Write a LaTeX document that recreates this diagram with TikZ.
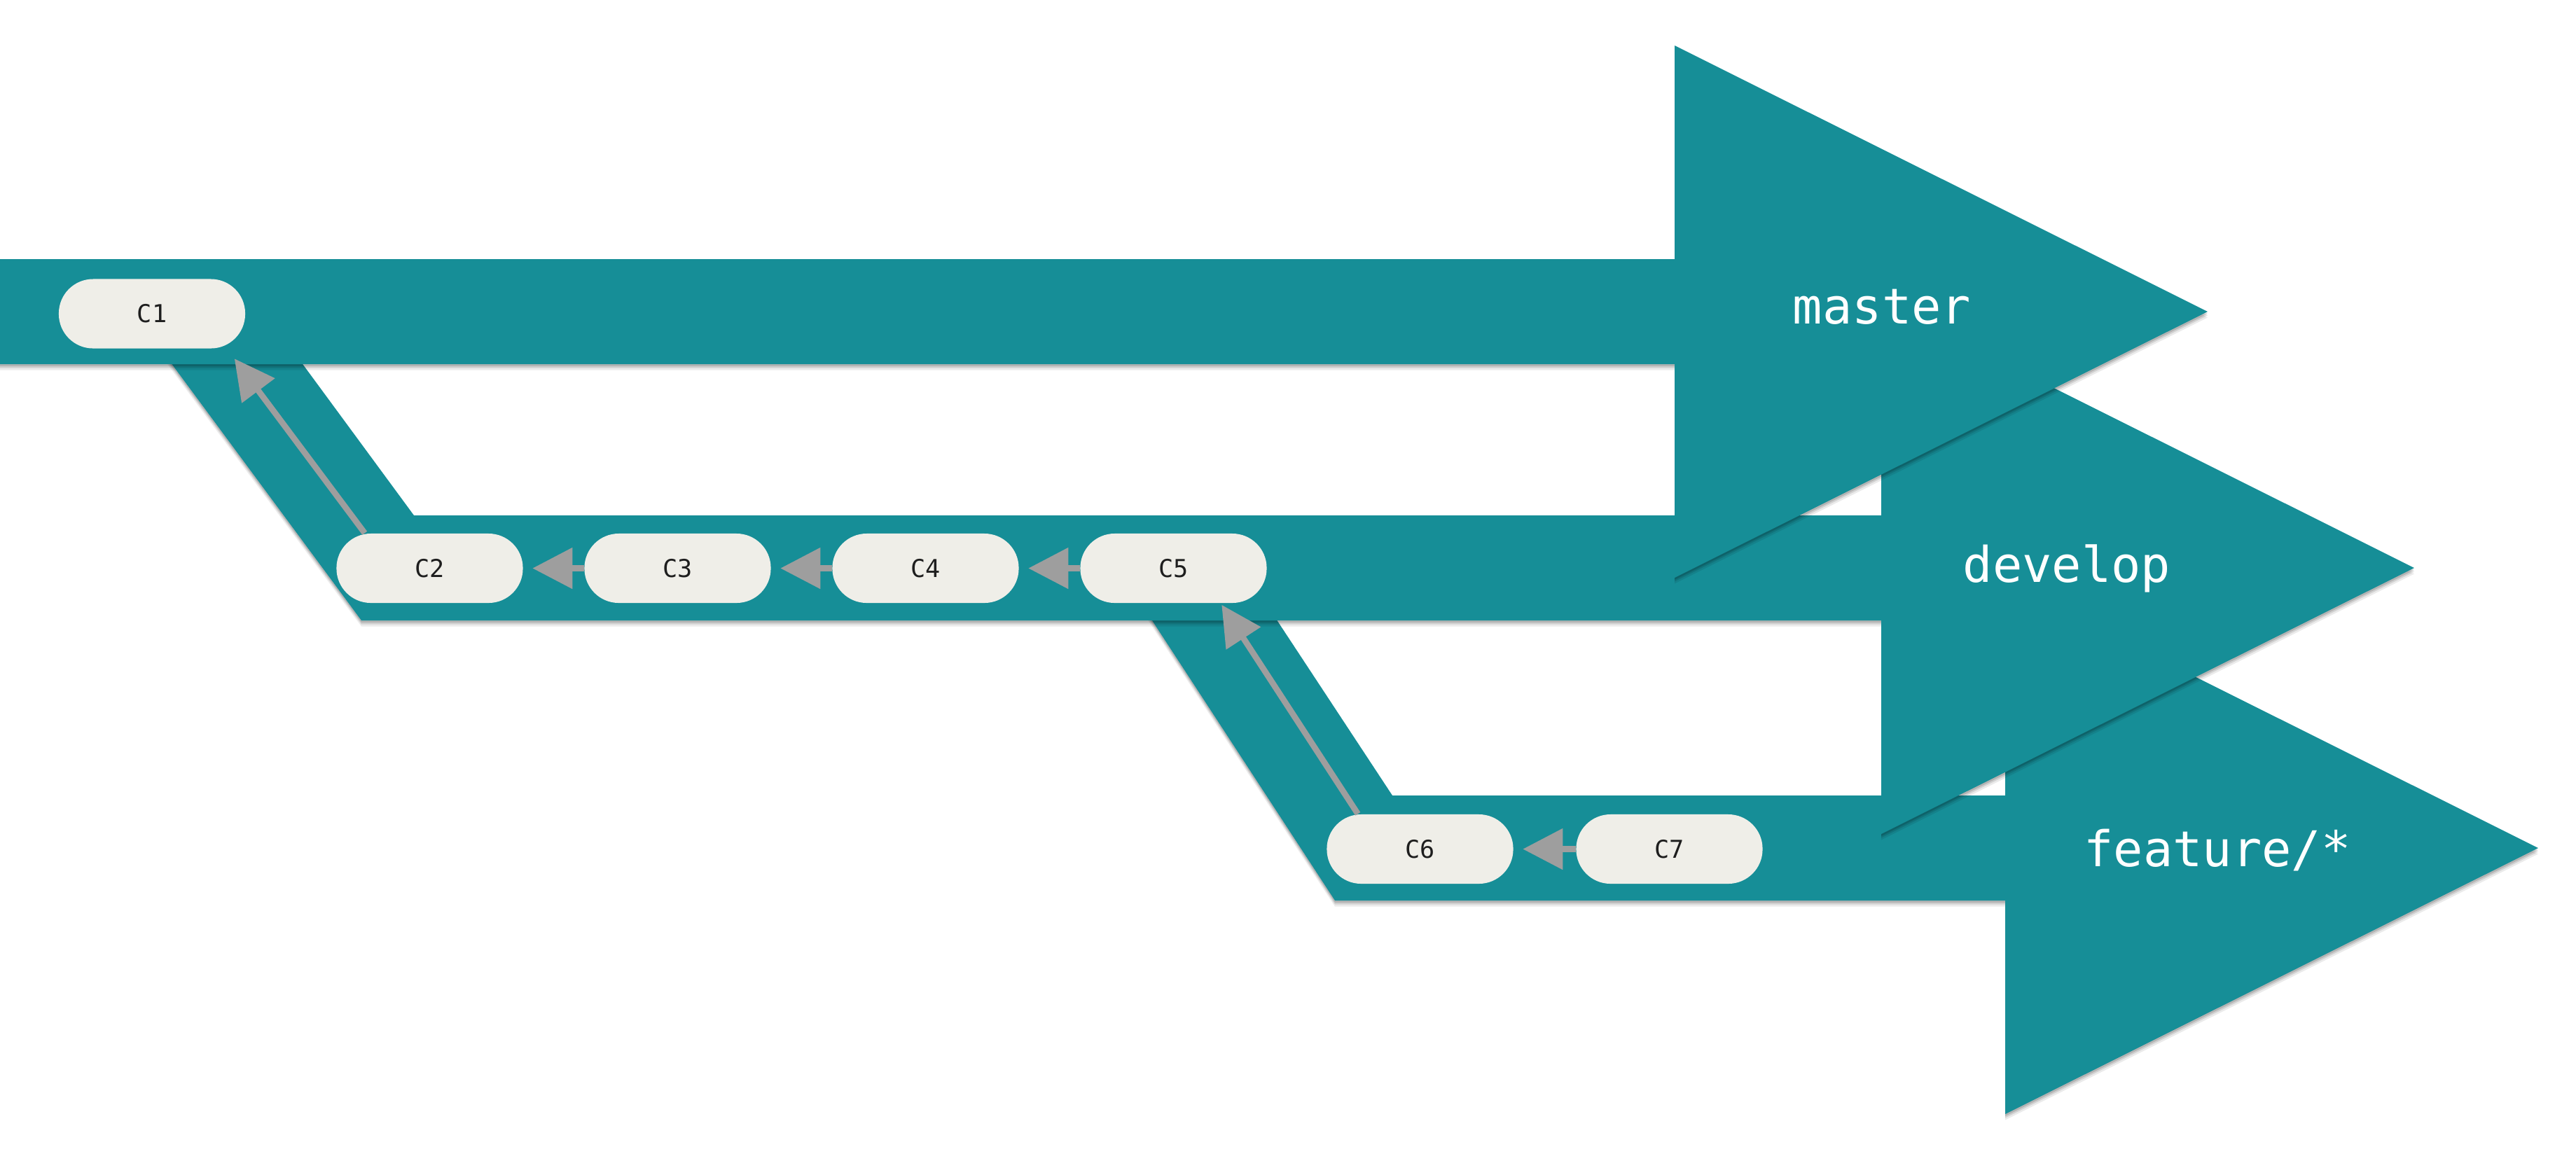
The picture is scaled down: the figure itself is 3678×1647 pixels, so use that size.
\documentclass[tikz,border=0pt]{standalone}
\usepackage{fontspec}
\setmonofont{DejaVu Sans Mono}
\usetikzlibrary{arrows.meta,calc,shadows}
\definecolor{teal0}{RGB}{22,142,151}
\definecolor{pillc}{RGB}{239,238,232}
\definecolor{arrowgray}{RGB}{158,158,158}
\definecolor{inkc}{RGB}{30,30,30}
\begin{document}
\begin{tikzpicture}[x=0.01cm,y=-0.01cm,
  branch/.style={fill=teal0, draw=none,
     drop shadow={shadow xshift=0cm,shadow yshift=-0.085cm,opacity=0.08,fill=black},
     drop shadow={shadow xshift=0cm,shadow yshift=-0.055cm,opacity=0.11,fill=black},
     drop shadow={shadow xshift=0cm,shadow yshift=-0.03cm,opacity=0.14,fill=black}},
  commit/.style={rectangle, rounded corners=0.49cm, fill=pillc, draw=none,
     minimum width=2.66cm, minimum height=0.99cm, inner sep=0pt,
     font=\ttfamily\fontsize{10}{12}\selectfont, text=inkc},
  brlabel/.style={text=white, inner sep=0pt, font=\ttfamily\fontsize{20}{24}\selectfont},
  parent/.style={draw=arrowgray, line width=0.085cm,
     -{Triangle[length=0.57cm,width=0.57cm]}, shorten >=0.13cm},
  diagparent/.style={parent, shorten >=0cm}
]
\useasboundingbox (0,0) rectangle (3678,1647);
\fill[white] (0,0) rectangle (3678,1647);

% feature/* branch
\path[branch] (1596,811) -- (1774,811) -- (1988,1136) -- (2863,1136) -- (2863,831)
  -- (3624,1211) -- (2863,1591) -- (2863,1286) -- (1906,1286) -- cycle;
% develop branch
\path[branch] (190,445) -- (377,445) -- (591,736) -- (2686,736) -- (2686,431)
  -- (3447,811) -- (2686,1191) -- (2686,886) -- (516,886) -- cycle;
% master branch
\path[branch] (0,370) -- (2391,370) -- (2391,65) -- (3152,445) -- (2391,825)
  -- (2391,520) -- (0,520) -- cycle;

% branch labels
\node[brlabel, anchor=base] (mlabel) at (2687,462) {master};
\node[brlabel, anchor=base] (dlabel) at (2951,831) {develop};
\node[brlabel, anchor=base] (flabel) at (3166,1237) {feature/*};

% commits
\node[commit] (C1) at (217,448) {C1};
\node[commit] (C2) at (613.5,811.5) {C2};
\node[commit] (C3) at (967.5,811.5) {C3};
\node[commit] (C4) at (1321.5,811.5) {C4};
\node[commit] (C5) at (1675.5,811.5) {C5};
\node[commit] (C6) at (2027.5,1212.5) {C6};
\node[commit] (C7) at (2383.5,1212.5) {C7};

% parent links
\draw[diagparent] ($(C2.north west)+(41,0)$) -- ($(C1.south east)+(-16,14)$);
\draw[parent] (C3) -- (C2);
\draw[parent] (C4) -- (C3);
\draw[parent] (C5) -- (C4);
\draw[diagparent] ($(C6.north west)+(45,0)$) -- ($(C5.south east)+(-65,2)$);
\draw[parent] (C7) -- (C6);
\end{tikzpicture}
\end{document}
